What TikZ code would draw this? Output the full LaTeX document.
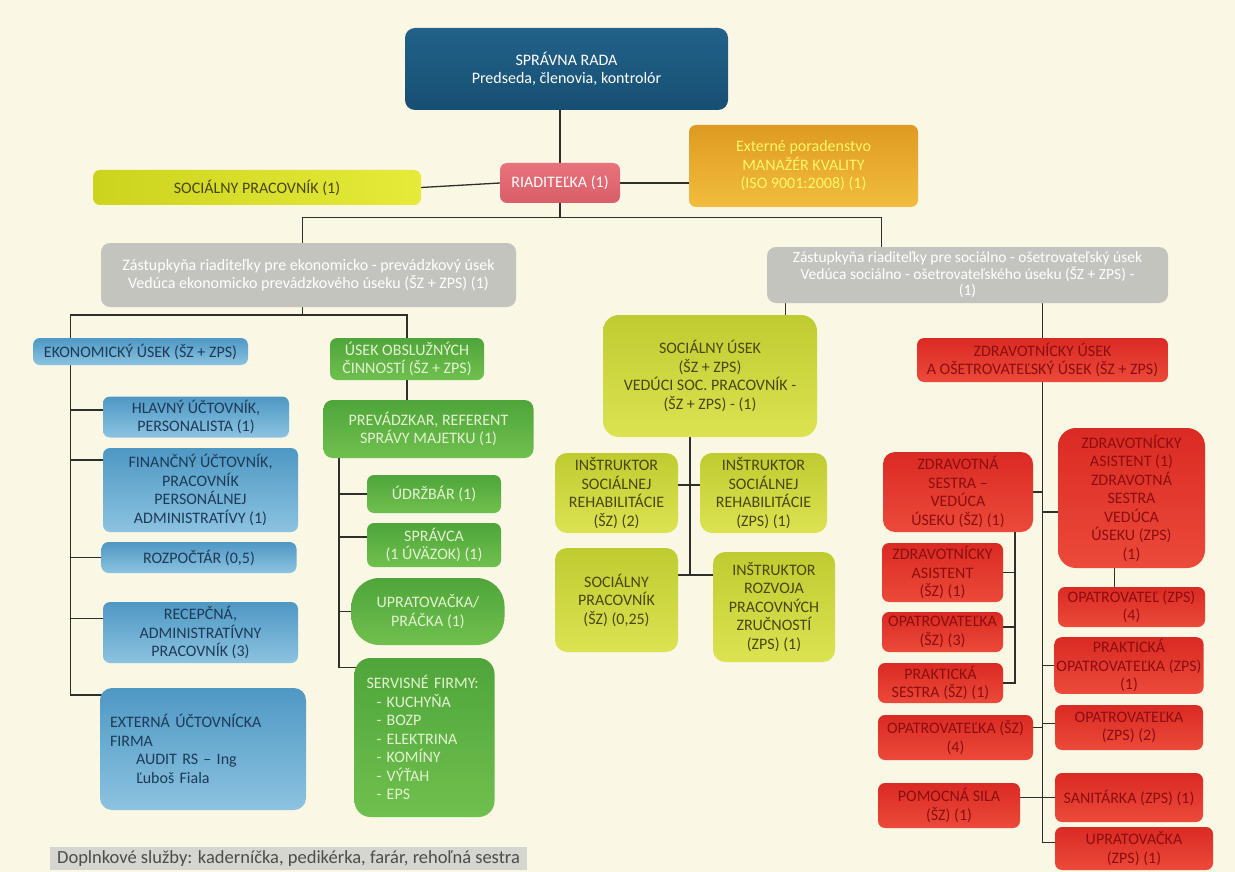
\documentclass[tikz,border=0pt]{standalone}
\usepackage{fontspec}
\setmainfont{Carlito}
\usetikzlibrary{backgrounds,calc}

\definecolor{cream}{HTML}{FAF7E4}
\definecolor{linegray}{HTML}{2E2E2A}
\definecolor{boardA}{HTML}{22618A}
\definecolor{boardB}{HTML}{174F72}
\definecolor{riadA}{HTML}{E8737C}
\definecolor{riadB}{HTML}{D85E68}
\definecolor{goldA}{HTML}{DE9A22}
\definecolor{goldB}{HTML}{F2BD3E}
\definecolor{limeA}{HTML}{CCD41E}
\definecolor{limeB}{HTML}{E6EA3A}
\definecolor{greyfill}{HTML}{C4C4BF}
\definecolor{ekoA}{HTML}{4E98C4}
\definecolor{ekoB}{HTML}{8CC3E0}
\definecolor{ekoT}{HTML}{1E3A58}
\definecolor{obslA}{HTML}{4FA53A}
\definecolor{obslB}{HTML}{6FC04E}
\definecolor{obslT}{HTML}{E2F2D0}
\definecolor{socA}{HTML}{BFCC30}
\definecolor{socB}{HTML}{DCE352}
\definecolor{socT}{HTML}{4A4612}
\definecolor{zdrA}{HTML}{DA2A24}
\definecolor{zdrB}{HTML}{EC4A3A}
\definecolor{zdrT}{HTML}{8C0E0E}
\definecolor{noteA}{HTML}{D6D6D0}

\begin{document}
\begin{tikzpicture}[x=1pt,y=-1pt]
\tikzstyle{box}=[rounded corners=7pt,align=center,inner sep=2pt,font=\fontsize{16}{18.5}\selectfont]
\tikzstyle{boardbox}=[box,rounded corners=10pt,top color=boardA,bottom color=boardB,text=white]
\tikzstyle{riadbox}=[box,top color=riadA,bottom color=riadB,text=white]
\tikzstyle{goldbox}=[box,top color=goldA,bottom color=goldB,text=yellow!60!white]
\tikzstyle{limebox}=[box,left color=limeA,right color=limeB,text=socT]
\tikzstyle{greybox}=[box,rounded corners=9pt,fill=greyfill,text=white]
\tikzstyle{ekobox}=[box,top color=ekoA,bottom color=ekoB,text=ekoT]
\tikzstyle{obslbox}=[box,top color=obslA,bottom color=obslB,text=obslT]
\tikzstyle{socbox}=[box,rounded corners=12pt,top color=socA,bottom color=socB,text=socT]
\tikzstyle{zdrbox}=[box,top color=zdrA,bottom color=zdrB,text=zdrT]
\tikzstyle{link}=[draw=linegray,line width=1.3pt]
\useasboundingbox (0,0) rectangle (1235,872);

% top
\node [boardbox,minimum width=323pt,minimum height=82pt] (board) at (566.5,69) {SPRÁVNA RADA\\Predseda, členovia, kontrolór};
\node [riadbox,minimum width=120pt,minimum height=40pt] (riad) at (560,183) {RIADITEĽKA (1)};
\node [goldbox,minimum width=229pt,minimum height=82pt] (ext) at (803.5,166) {Externé poradenstvo\\MANAŽÉR KVALITY\\(ISO 9001:2008) (1)};
\node [limebox,minimum width=328pt,minimum height=35pt] (socprac) at (257,187.5) {SOCIÁLNY PRACOVNÍK (1)};
\node [greybox,minimum width=415pt,minimum height=64pt] (grayL) at (308.5,275) {Zástupkyňa riaditeľky pre ekonomicko - prevádzkový úsek\\Vedúca ekonomicko prevádzkového úseku (ŠZ + ZPS) (1)};
\node [greybox,minimum width=401pt,minimum height=56pt,font=\fontsize{15.5}{16.5}\selectfont] (grayR) at (967.5,275) {Zástupkyňa riaditeľky pre sociálno - ošetrovateľský úsek\\Vedúca sociálno - ošetrovateľského úseku (ŠZ + ZPS) -\\(1)};

% ekonomicky usek
\node [ekobox,minimum width=215pt,minimum height=27pt] (econ) at (140.5,351.5) {EKONOMICKÝ ÚSEK (ŠZ + ZPS)};
\node [ekobox,minimum width=186pt,minimum height=41pt] (hlavny) at (196,417) {HLAVNÝ ÚČTOVNÍK,\\PERSONALISTA (1)};
\node [ekobox,minimum width=195pt,minimum height=84pt] (financ) at (200.5,490) {FINANČNÝ ÚČTOVNÍK,\\PRACOVNÍK\\PERSONÁLNEJ\\ADMINISTRATÍVY (1)};
\node [ekobox,minimum width=195pt,minimum height=31pt] (rozp) at (199,557.5) {ROZPOČTÁR (0,5)};
\node [ekobox,minimum width=195pt,minimum height=61pt] (recep) at (200.5,632.5) {RECEPČNÁ,\\ADMINISTRATÍVNY\\PRACOVNÍK (3)};
\node [ekobox,rounded corners=12pt,minimum width=206pt,minimum height=122pt,align=left,text width=186pt] (extfirm) at (203,749) {EXTERNÁ ÚČTOVNÍCKA\\FIRMA\\\hspace*{26pt}AUDIT RS -- Ing\\\hspace*{26pt}Ľuboš Fiala};

% usek obsluznych cinnosti
\node [obslbox,minimum width=154pt,minimum height=42pt] (obsl) at (407,359) {ÚSEK OBSLUŽNÝCH\\ČINNOSTÍ (ŠZ + ZPS)};
\node [obslbox,rounded corners=9pt,minimum width=210pt,minimum height=58pt] (prev) at (428.5,429) {PREVÁDZKAR, REFERENT\\SPRÁVY MAJETKU (1)};
\node [obslbox,minimum width=134pt,minimum height=38pt] (udrz) at (434,494) {ÚDRŽBÁR (1)};
\node [obslbox,minimum width=134pt,minimum height=44pt] (spravca) at (434,545) {SPRÁVCA\\(1 ÚVÄZOK) (1)};
\node [obslbox,rounded corners=28pt,minimum width=153pt,minimum height=67pt] (uprat) at (428,611.5) {UPRATOVAČKA/\\PRÁČKA (1)};
\node [obslbox,rounded corners=16pt,minimum width=140pt,minimum height=159pt,align=left,text width=116pt] (servis) at (424.5,737.5) {SERVISNÉ FIRMY:\\\hspace*{10pt}- KUCHYŇA\\\hspace*{10pt}- BOZP\\\hspace*{10pt}- ELEKTRINA\\\hspace*{10pt}- KOMÍNY\\\hspace*{10pt}- VÝŤAH\\\hspace*{10pt}- EPS};

% socialny usek
\node [socbox,rounded corners=16pt,minimum width=214pt,minimum height=122pt] (socusek) at (710,376) {SOCIÁLNY ÚSEK\\(ŠZ + ZPS)\\VEDÚCI SOC. PRACOVNÍK -\\(ŠZ + ZPS) - (1)};
\node [socbox,minimum width=123pt,minimum height=80pt] (instr1) at (616.5,493) {INŠTRUKTOR\\SOCIÁLNEJ\\REHABILITÁCIE\\(ŠZ) (2)};
\node [socbox,minimum width=127pt,minimum height=80pt] (instr2) at (763.5,493) {INŠTRUKTOR\\SOCIÁLNEJ\\REHABILITÁCIE\\(ZPS) (1)};
\node [socbox,minimum width=123pt,minimum height=104pt] (socprac2) at (616.5,600) {SOCIÁLNY\\PRACOVNÍK\\(ŠZ) (0,25)};
\node [socbox,minimum width=122pt,minimum height=110pt] (instr3) at (774,607) {INŠTRUKTOR\\ROZVOJA\\PRACOVNÝCH\\ZRUČNOSTÍ\\(ZPS) (1)};

% zdravotnicky usek
\node [zdrbox,minimum width=251pt,minimum height=44pt] (zdrav) at (1042.5,360) {ZDRAVOTNÍCKY ÚSEK\\A OŠETROVATEĽSKÝ ÚSEK (ŠZ + ZPS)};
\node [zdrbox,rounded corners=12pt,minimum width=150pt,minimum height=80pt] (bigL) at (958,492) {ZDRAVOTNÁ\\SESTRA --\\VEDÚCA\\ÚSEKU (ŠZ) (1)};
\node [zdrbox,rounded corners=18pt,minimum width=147pt,minimum height=140pt,font=\fontsize{16}{18.5}\selectfont] (bigR) at (1131.5,498) {ZDRAVOTNÍCKY\\ASISTENT (1)\\ZDRAVOTNÁ\\SESTRA\\VEDÚCA\\ÚSEKU (ZPS)\\(1)};
\node [zdrbox,minimum width=121pt,minimum height=59pt] (small1) at (942.5,572.5) {ZDRAVOTNÍCKY\\ASISTENT\\(ŠZ) (1)};
\node [zdrbox,minimum width=121pt,minimum height=40pt] (small2) at (942.5,632) {OPATROVATEĽKA\\(ŠZ) (3)};
\node [zdrbox,minimum width=125pt,minimum height=40pt] (small3) at (940.5,683) {PRAKTICKÁ\\SESTRA (ŠZ) (1)};
\node [zdrbox,minimum width=155pt,minimum height=45pt] (small4) at (955.5,737.5) {OPATROVATEĽKA (ŠZ)\\(4)};
\node [zdrbox,minimum width=142pt,minimum height=45pt] (small5) at (949,805.5) {POMOCNÁ SILA\\(ŠZ) (1)};
\node [zdrbox,minimum width=147pt,minimum height=40pt] (r1) at (1131.5,607) {OPATROVATEĽ (ZPS)\\(4)};
\node [zdrbox,minimum width=148pt,minimum height=55pt] (r2) at (1129,665.5) {PRAKTICKÁ\\OPATROVATEĽKA (ZPS)\\(1)};
\node [zdrbox,minimum width=148pt,minimum height=45pt] (r3) at (1129,727.5) {OPATROVATEĽKA\\(ZPS) (2)};
\node [zdrbox,minimum width=148pt,minimum height=49pt] (r4) at (1129,797.5) {SANITÁRKA (ZPS) (1)};
\node [zdrbox,minimum width=158pt,minimum height=43pt] (r5) at (1134,848.5) {UPRATOVAČKA\\(ZPS) (1)};

% poznamka
\node [box,rounded corners=0pt,fill=noteA,text=black!70,minimum width=477pt,minimum height=23pt,font=\fontsize{18.5}{19}\selectfont] (note) at (288.5,858.5) {Doplnkové služby: kaderníčka, pedikérka, farár, rehoľná sestra};

\begin{scope}[on background layer]
\fill [cream] (0,0) rectangle (1235,872);
% spojenia hore
\draw [link] (riad.north) -- (riad.north |- board.south);
\draw [link] (socprac.east) -- (riad.west);
\draw [link] (riad.east) -- (riad.east -| ext.west);
\draw [link] (riad.south) -- ++(0,14) coordinate (rj);
\draw [link] ([xshift=-6pt]grayL.north) |- (rj) -| ([xshift=-86pt]grayR.north);
% ekonomicky a obsluzny usek
\draw [link] ([xshift=-6pt]grayL.south) -- ++(0,8) coordinate (lj);
\coordinate (ls) at (70.5,315);
\draw [link] (obsl.north) |- (ls) -- (ls |- 0,695);
\draw [link] ([yshift=7pt]hlavny.west) -| (ls);
\draw [link] ([yshift=30pt]financ.west) -| (ls);
\draw [link] (rozp.west) -| (ls);
\draw [link] ([yshift=14pt]recep.west) -| (ls);
\draw [link] ([xshift=10pt,yshift=54pt]extfirm.west) -| (ls);
\draw [link] (obsl.south) -- (obsl.south |- prev.north);
\coordinate (gs) at (339,458);
\draw [link] (udrz.west) -| (gs);
\draw [link] ([yshift=8pt]spravca.west) -| (gs);
\draw [link] (uprat.west) -| (gs);
\draw [link] ([xshift=10pt,yshift=70pt]servis.west) -| (gs);
% socialny usek
\draw [link] ([xshift=-182pt]grayR.south) -- ([xshift=-182pt]grayR.south |- socusek.north);
\draw [link] ([xshift=-20pt]socusek.south) -- ++(0,138) coordinate (sb);
\draw [link] ([yshift=8pt]instr1.east) -- ([yshift=8pt]instr2.west);
\draw [link] ([yshift=25pt]socprac2.east) -- ([yshift=32pt]instr3.west);
% zdravotnicky usek
\draw [link] (zdrav.north) -- (zdrav.north |- grayR.south);
\draw [link] (zdrav.south) |- ([xshift=6pt,yshift=6pt]r5.west);
\draw [link] (bigL.east) -- (bigL.east -| zdrav.south);
\draw [link] ([yshift=-14pt]bigR.west) -- ([yshift=-14pt]bigR.west -| zdrav.south);
\draw [link] ([yshift=10pt]small4.east) -- ([yshift=10pt]small4.east -| zdrav.south);
\draw [link] ([yshift=8pt]small5.east) -- ([yshift=8pt]small5.east -| zdrav.south);
\draw [link] (r2.west) -- (r2.west -| zdrav.south);
\draw [link] ([yshift=4pt]r3.west) -- ([yshift=4pt]r3.west -| zdrav.south);
\draw [link] (r4.west) -- (r4.west -| zdrav.south);
\draw [link] ([xshift=-17pt]bigR.south) -- ([xshift=-17pt]bigR.south |- r1.north);
\coordinate (lsp) at ([xshift=57pt]bigL.south);
\draw [link] (lsp) |- (small3.east);
\draw [link] (small1.east) -- (small1.east -| lsp);
\draw [link] ([yshift=5pt]small2.east) -- ([yshift=5pt]small2.east -| lsp);
\end{scope}
\end{tikzpicture}
\end{document}
